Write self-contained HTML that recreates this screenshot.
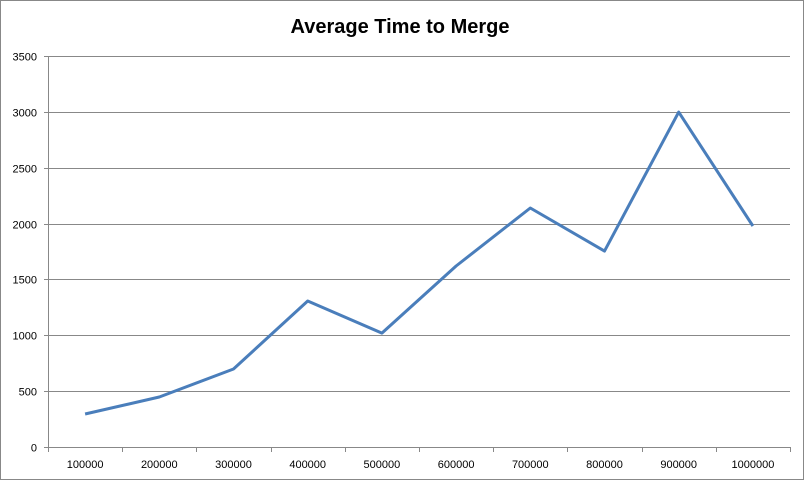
<!DOCTYPE html>
<html><head><meta charset="utf-8"><style>
html,body{margin:0;padding:0;background:#fff}
svg{display:block}
text{font-family:"Liberation Sans",sans-serif}
</style></head><body>
<svg id="chart" width="805" height="482" viewBox="0 0 805 482">
<rect x="0.5" y="0.5" width="803" height="479" fill="#fff" stroke="#888"/>
<text x="400" y="33" text-anchor="middle" font-size="20" font-weight="bold" fill="#000">Average Time to Merge</text>
<g id="grid"></g><g id="axes"></g><g id="series"></g>
</svg>
<script>
const categories = ["100000","200000","300000","400000","500000","600000","700000","800000","900000","1000000"];
const mergeTimes = [295, 448, 698, 1307, 1020, 1620, 2139, 1754, 2998, 1978];
const yTicks = [0, 500, 1000, 1500, 2000, 2500, 3000, 3500];
const L=48,R=790,T=56,B=447,yMax=3500;
const ns="http://www.w3.org/2000/svg";
const band=(R-L)/categories.length;
const xs=i=>L+band*(i+0.5);
const ys=v=>B-(v/yMax)*(B-T);
function mk(tag,attrs,parent){const e=document.createElementNS(ns,tag);for(const k in attrs)e.setAttribute(k,attrs[k]);document.getElementById(parent).appendChild(e);return e;}
yTicks.forEach(v=>{
  const y=Math.round(ys(v))+0.5;
  const g=mk('line',{x1:L-4,x2:v===0?R:R,y1:y,y2:y,stroke:'#888','stroke-width':1},'grid');
  
  
  const t=mk('text',{x:37,y:y+4,'text-anchor':'end','font-size':11,fill:'#000'},'axes');
  t.textContent=v;
  
  
});
const ya=mk('line',{x1:L+0.5,x2:L+0.5,y1:T,y2:B,stroke:'#888'},'axes');


for(let i=0;i<=categories.length;i++){
  const x=Math.round(L+band*i)+0.5;
  const tk=mk('line',{x1:x,x2:x,y1:B,y2:B+5,stroke:'#888'},'axes');
  
  
}
categories.forEach((c,i)=>{
  const t=mk('text',{x:xs(i),y:468,'text-anchor':'middle','font-size':11,fill:'#000'},'axes');
  t.textContent=c;
  
  
});
const pts=mergeTimes.map((v,i)=>xs(i).toFixed(1)+','+ys(v).toFixed(1)).join(' ');
const pl=mk('polyline',{points:pts,fill:'none',stroke:'#4a7ebb','stroke-width':3,'stroke-linejoin':'round'},'series');


</script>
</body></html>
